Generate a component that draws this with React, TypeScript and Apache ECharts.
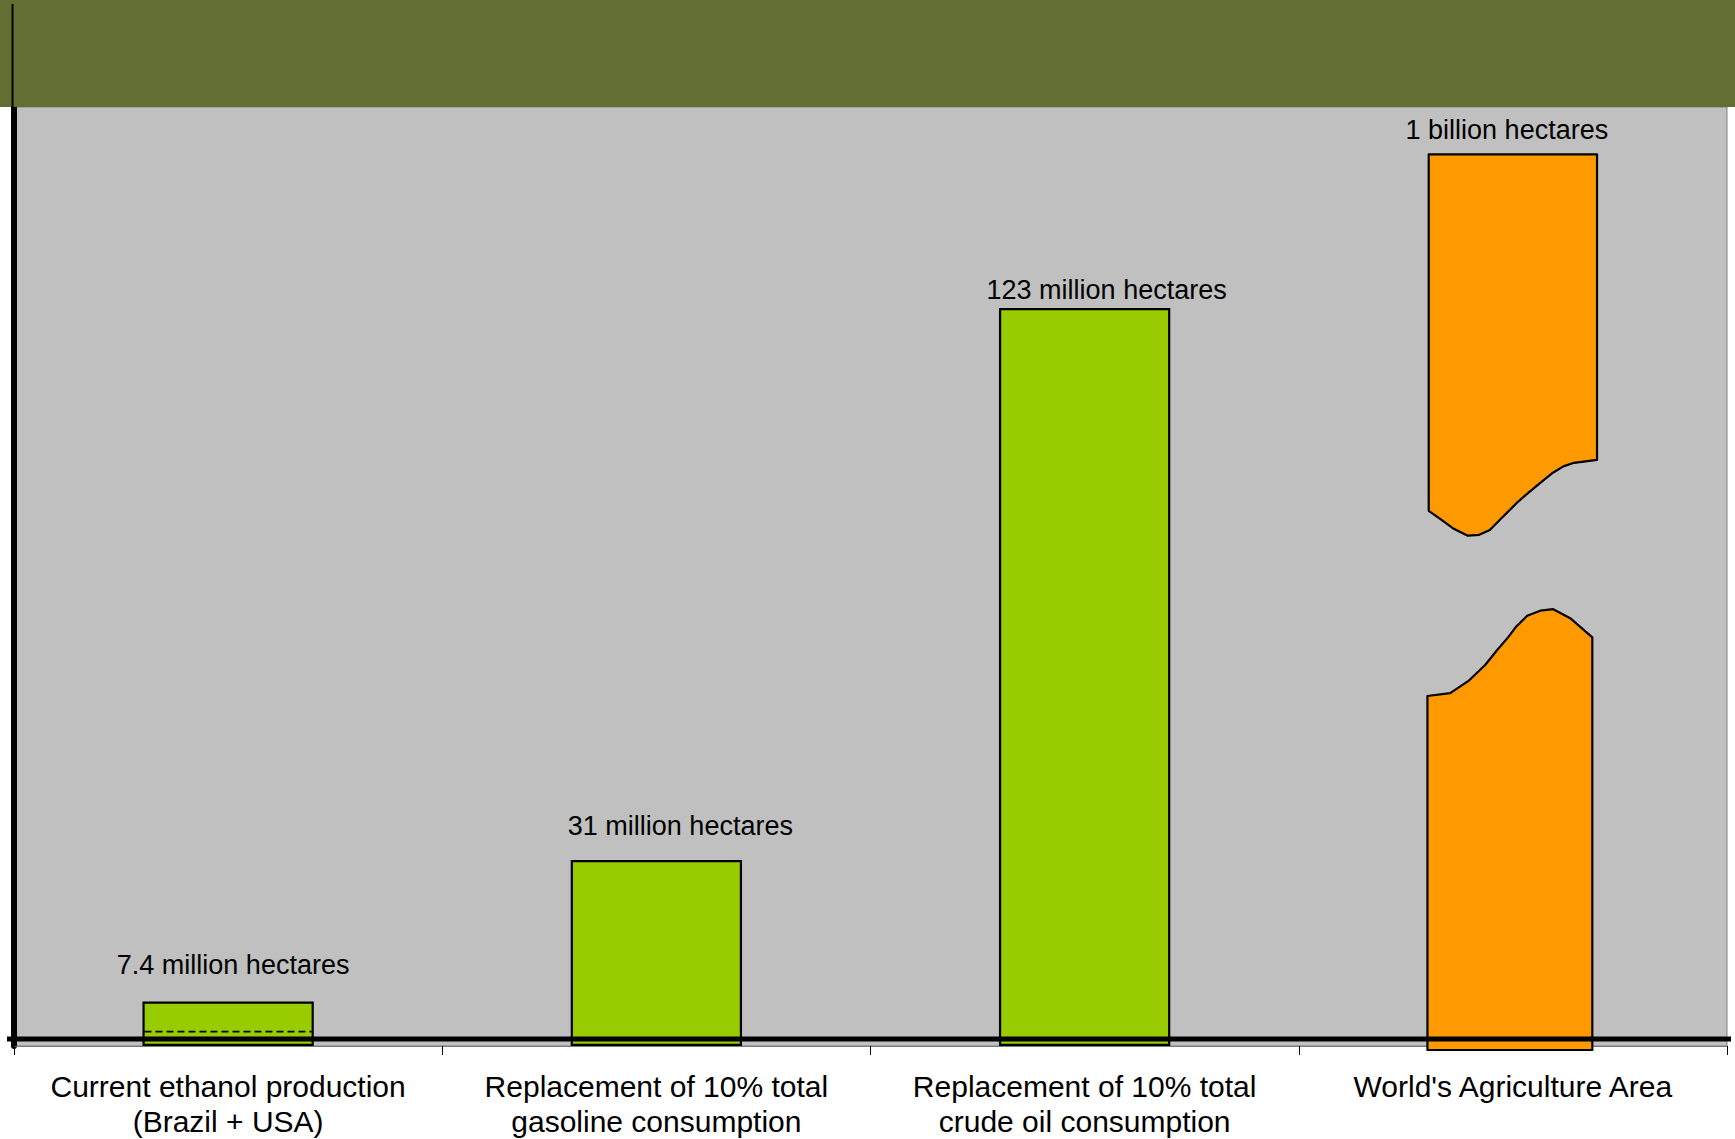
import React, { useEffect, useRef } from "react";
import * as echarts from "echarts";

// ---- data ----
const categories = [
  "Current ethanol production\n(Brazil + USA)",
  "Replacement of 10% total\ngasoline consumption",
  "Replacement of 10% total\ncrude oil consumption",
  "World's Agriculture Area",
];
const barValues = [7.4, 31, 123]; // million hectares
const valueLabels = [
  "7.4 million hectares",
  "31 million hectares",
  "123 million hectares",
  "1 billion hectares",
];
// broken (off-scale) bar: category index, drawn height on the axis
const brokenBar = [[3, 148.6]];
// dashed mark inside the first bar: [category index, value]
const dashedMarks = [[0, 2.4]];
const axisMax = 156.5;

// ---- style constants (shape of the axis break on the broken bar) ----
// upper piece bottom edge, right -> left: [fraction of width, axis value]
const upperBreak = [
  [1.0, 97.7], [0.863, 97.2], [0.8, 96.6], [0.738, 95.55], [0.661, 93.8], [0.6, 92.4], [0.53, 90.7],
  [0.423, 87.7], [0.363, 86.0], [0.3, 85.2], [0.232, 85.05], [0.143, 86.3], [0.07, 87.8], [0.0, 89.2],
];
// lower piece top edge, left -> right
const lowerBreak = [
  [0.0, 58.33], [0.138, 58.8], [0.247, 60.8], [0.35, 63.5], [0.423, 66.0],
  [0.489, 68.1], [0.538, 69.9], [0.605, 71.7], [0.684, 72.55], [0.763, 72.8],
  [0.866, 71.3], [1.0, 68.1],
];
const labelOffsets = [
  [5, -23],
  [24, -21],
  [22, -5],
];

const FONT = "'Liberation Sans', Arial, sans-serif";

export default function App() {
  const ref = useRef<HTMLDivElement>(null);

  useEffect(() => {
    document.body.style.margin = "0";
    document.body.style.overflow = "hidden";
    const chart = echarts.init(ref.current!, null, { renderer: "svg" });

    const option: any = {
      animation: false,
      backgroundColor: "#ffffff",
      grid: {
        left: 14,
        right: 8,
        top: 107,
        bottom: 93,
        show: true,
        backgroundColor: "#c0c0c0",
        borderColor: "#808080",
        borderWidth: 1,
      },
      xAxis: {
        type: "category",
        data: categories,
        boundaryGap: true,
        axisLine: { show: true, lineStyle: { color: "#7a7a7a", width: 1 } },
        axisTick: { show: true, length: 9, lineStyle: { color: "#000", width: 1 } },
        axisLabel: {
          interval: 0,
          margin: 23,
          color: "#000",
          fontFamily: FONT,
          fontSize: 30,
          lineHeight: 35,
          verticalAlign: "top",
        },
      },
      yAxis: {
        type: "value",
        min: 0,
        max: axisMax,
        axisLine: { show: true, lineStyle: { color: "#000", width: 6 } },
        axisTick: { show: false },
        axisLabel: { show: false },
        splitLine: { show: false },
      },
      series: [
        {
          type: "bar",
          barWidth: "40%",
          data: barValues.map((v, i) => ({
            value: v,
            label: {
              show: true,
              position: "top",
              distance: 0,
              offset: labelOffsets[i],
              formatter: valueLabels[i],
            },
          })),
          itemStyle: { color: "#99cc00", borderColor: "#000", borderWidth: 2.2 },
          label: {
            color: "#000",
            fontFamily: FONT,
            fontSize: 27,
            lineHeight: 27,
          },
          z: 2,
        },
        {
          type: "custom",
          data: dashedMarks,
          z: 3,
          renderItem: (params: any, api: any) => {
            const cat = api.value(0);
            const v = api.value(1);
            const band = api.size([1, 0])[0];
            const w = band * 0.4;
            const p = api.coord([cat, v]);
            return {
              type: "line",
              shape: { x1: p[0] - w / 2 + 2, y1: p[1], x2: p[0] + w / 2 - 2, y2: p[1] },
              style: { stroke: "#000", lineWidth: 1.6, lineDash: [7, 4] },
            };
          },
        },
        {
          type: "custom",
          data: brokenBar,
          z: 2,
          renderItem: (params: any, api: any) => {
            const cat = api.value(0);
            const top = api.value(1);
            const band = api.size([1, 0])[0];
            const base = api.coord([cat, 0]);
            const cx = base[0];
            const yTop = api.coord([cat, top])[1];
            const y0 = base[1] + 4;
            const yOf = (v: number) => api.coord([cat, v])[1];

            const wU = band * 0.393;
            const lU = cx - wU / 2;
            const upper: number[][] = [
              [lU, yTop],
              [lU + wU, yTop],
              ...upperBreak.map(([f, v]) => [lU + f * wU, yOf(v)]),
            ];

            const wL = band * 0.385;
            const lL = cx - 3 - wL / 2;
            const lower: number[][] = [
              [lL, y0],
              ...lowerBreak.map(([f, v]) => [lL + f * wL, yOf(v)]),
              [lL + wL, y0],
            ];

            const style = { fill: "#ff9900", stroke: "#000", lineWidth: 2.2, lineJoin: "round" };
            return {
              type: "group",
              children: [
                { type: "polygon", shape: { points: upper }, style },
                { type: "polygon", shape: { points: lower }, style },
                {
                  type: "text",
                  x: cx - 6,
                  y: yTop - 24,
                  style: {
                    text: valueLabels[3],
                    fill: "#000",
                    font: `27px ${FONT}`,
                    align: "center",
                    verticalAlign: "middle",
                  },
                },
              ],
            };
          },
        },
      ],
      graphic: [
        {
          type: "rect",
          shape: { x: 0, y: 0, width: 1735, height: 107 },
          style: { fill: "#636e32" },
          z: 50,
        },
        {
          type: "line",
          shape: { x1: 12.5, y1: 4, x2: 12.5, y2: 108 },
          style: { stroke: "#000", lineWidth: 2 },
          z: 51,
        },
        {
          type: "line",
          shape: { x1: 7, y1: 1039, x2: 1731, y2: 1039 },
          style: { stroke: "#000", lineWidth: 5 },
          z: 100,
        },
      ],
    };

    chart.setOption(option);
    return () => chart.dispose();
  }, []);

  return <div ref={ref} style={{ width: 1735, height: 1139 }} />;
}
